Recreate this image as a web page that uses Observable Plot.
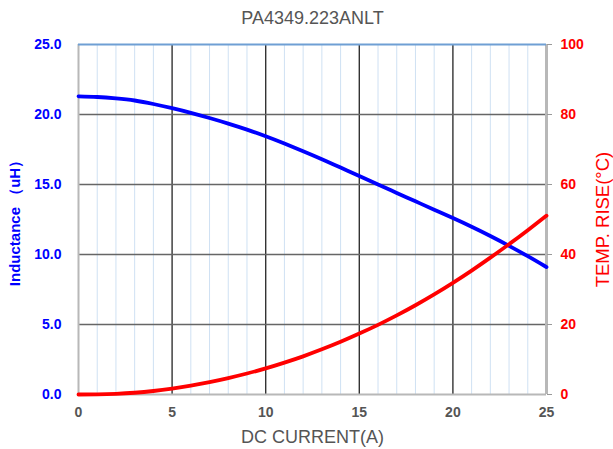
<!DOCTYPE html>
<html>
<head>
<meta charset="utf-8">
<script src="https://cdn.jsdelivr.net/npm/d3@7"></script>
<script src="https://cdn.jsdelivr.net/npm/@observablehq/plot@0.6"></script>
<style>
  html, body { margin: 0; padding: 0; background: #fff; }
  #chart svg { display: block; }
</style>
</head>
<body>
<div id="chart"></div>
<script>
const title = "PA4349.223ANLT";
const xLabel = "DC CURRENT(A)";
const leftLabel = "Inductance （uH）";
const rightLabel = "TEMP. RISE(°C)";

const currents   = [0,1,2,3,4,5,6,7,8,9,10,11,12,13,14,15,16,17,18,19,20,21,22,23,24,25];
const inductance = [21.3,21.25,21.15,21.0,20.75,20.45,20.12,19.75,19.35,18.92,18.45,17.93,17.38,16.81,16.21,15.6,15.0,14.4,13.8,13.2,12.6,11.98,11.32,10.62,9.88,9.1];
const tempRise   = [0,0.05,0.2,0.5,1.0,1.7,2.55,3.55,4.7,6.0,7.45,9.1,10.9,12.9,15.05,17.4,19.9,22.6,25.5,28.6,31.9,35.4,39.1,42.95,46.95,51.1];

const xTicks = [0,5,10,15,20,25];
const minorX = [1,2,3,4,6,7,8,9,11,12,13,14,16,17,18,19,21,22,23,24];
const majorX = [5,10,15,20];
const leftTicks = [0,5,10,15,20,25];
const rightTicks = [0,20,40,60,80,100];
const rightMax = 100, leftMax = 25;
const toLeft = v => v * leftMax / rightMax;

const indData = currents.map((c,i) => ({c, v: inductance[i]}));
const tempData = currents.map((c,i) => ({c, v: toLeft(tempRise[i])}));

const font = "'Liberation Sans', Arial, Helvetica, sans-serif";

const chart = Plot.plot({
  width: 613,
  height: 449,
  marginLeft: 78,
  marginRight: 67,
  marginTop: 44,
  marginBottom: 55,
  style: {fontFamily: font, background: "#fff"},
  x: {domain: [0, 25]},
  y: {domain: [0, 25]},
  marks: [
    Plot.ruleX(minorX, {stroke: "#cfe1f3", strokeWidth: 1}),
    Plot.ruleX(majorX, {stroke: "#333", strokeWidth: 1.4}),
    Plot.ruleY([5,10,15,20], {stroke: "#666", strokeWidth: 1.6}),
    Plot.ruleX([0], {stroke: "#b8b8b8", strokeWidth: 2}),
    Plot.ruleX([25], {stroke: "#b8b8b8", strokeWidth: 3}),
    Plot.ruleY([0], {stroke: "#b8b8b8", strokeWidth: 2}),
    Plot.ruleY([25], {stroke: "#6f9fd4", strokeWidth: 2}),
    Plot.line(indData, {x: "c", y: "v", stroke: "#0000ff", strokeWidth: 3.8, curve: "natural"}),
    Plot.line(tempData, {x: "c", y: "v", stroke: "#ff0000", strokeWidth: 3.8, curve: "natural"}),
    Plot.axisX(xTicks, {tickSize: 0, tickPadding: 13, fontSize: 14, fontWeight: "bold", fill: "#555", label: null, tickFormat: d => d}),
    Plot.axisY(leftTicks, {anchor: "left", tickSize: 0, tickPadding: 17, fontSize: 14, fontWeight: "bold", fill: "#0000ff", label: null, tickFormat: d => d.toFixed(1)}),
    Plot.axisY(rightTicks.map(toLeft), {anchor: "right", tickSize: 5, stroke: "#999", tickPadding: 9, fontSize: 14, fontWeight: "bold", fill: "#ff0000", label: null, tickFormat: d => Math.round(d * rightMax / leftMax)}),
    Plot.text([title], {frameAnchor: "top", dy: -26, lineAnchor: "middle", textAnchor: "middle", fontSize: 18, fill: "#555", fontFamily: font}),
    Plot.text([xLabel], {frameAnchor: "bottom", dy: 43, lineAnchor: "middle", textAnchor: "middle", fontSize: 18, fill: "#555", fontFamily: font}),
    Plot.text([leftLabel], {frameAnchor: "left", dx: -63, rotate: -90, lineAnchor: "middle", textAnchor: "middle", fontSize: 15, fontWeight: "bold", fill: "#0000ff", fontFamily: font}),
    Plot.text([rightLabel], {frameAnchor: "right", dx: 57, rotate: -90, lineAnchor: "middle", textAnchor: "middle", fontSize: 18.5, fill: "#ff0000", fontFamily: font})
  ]
});
document.getElementById("chart").appendChild(chart);
</script>
</body>
</html>
